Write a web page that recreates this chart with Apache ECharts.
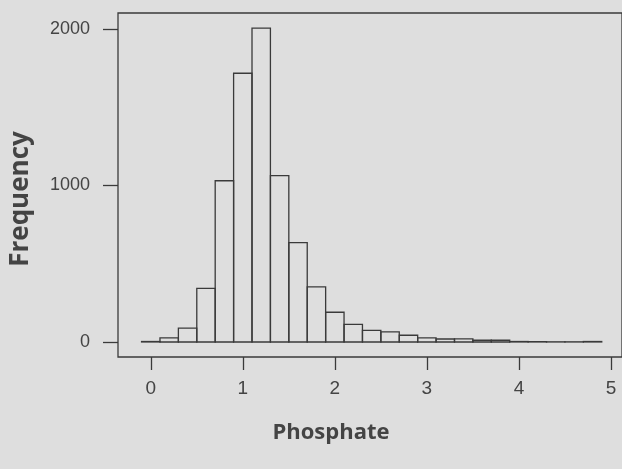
<!DOCTYPE html>
<html><head><meta charset="utf-8">
<script src="https://cdn.jsdelivr.net/npm/echarts@6/dist/echarts.min.js"></script>
<style>html,body{margin:0;padding:0;background:#dedede}#c{width:622px;height:469px}</style>
</head><body><div id="c"></div>
<script>
const binCenters = [0,0.2,0.4,0.6,0.8,1.0,1.2,1.4,1.6,1.8,2.0,2.2,2.4,2.6,2.8,3.0,3.2,3.4,3.6,3.8,4.0,4.2,4.4,4.6,4.8];
const frequencies = [3,26,89,343,1030,1717,2005,1063,635,352,190,112,74,64,43,26,19,20,11,11,3,2,1,1,3];
const binWidth = 0.2;
const xTicks = [0,1,2,3,4,5];
const yTicks = [0,1000,2000];
const xTitle = 'Phosphate';
const yTitle = 'Frequency';

const data = binCenters.map((c,i)=>[c,frequencies[i]]);
const chart = echarts.init(document.getElementById('c'));
const lineCol = '#3a3a3a';
chart.setOption({
  backgroundColor:'#dedede',
  animation:false,
  grid:{left:118, top:13, right:-3, bottom:112, show:true, borderColor:lineCol, borderWidth:1.3, backgroundColor:'transparent'},
  xAxis:{type:'value', min:-0.356, max:5.12,
    axisLine:{show:false, onZero:false}, splitLine:{show:false},
    axisTick:{show:true, inside:false, length:13, lineStyle:{color:lineCol,width:1.3}, customValues:xTicks},
    axisLabel:{customValues:xTicks, margin:22, color:'#444', fontFamily:'Liberation Sans', fontSize:19, formatter:v=>String(v)}
  },
  yAxis:{type:'value', min:-96, max:2102,
    axisLine:{show:false, onZero:false}, splitLine:{show:false},
    axisTick:{show:true, inside:false, length:15, lineStyle:{color:lineCol,width:1.3}, customValues:yTicks},
    axisLabel:{customValues:yTicks, margin:28, color:'#444', fontFamily:'Liberation Sans', fontSize:18, formatter:v=>String(v)}
  },
  graphic:[
    {type:'text', x:331, y:433, style:{text:xTitle, x:0, y:0, align:'center', verticalAlign:'middle', font:'bold 22px "Open Sans"', fill:'#444'}},
    {type:'text', rotation:Math.PI/2, x:21, y:199, style:{text:yTitle, x:0, y:0, align:'center', verticalAlign:'middle', font:'bold 26px "Open Sans"', fill:'#444'}}
  ],
  series:[{
    type:'custom',
    data:data,
    renderItem:function(params, api){
      const c = api.value(0), v = api.value(1);
      const p0 = api.coord([c-binWidth/2, v]);
      const p1 = api.coord([c+binWidth/2, 0]);
      return {type:'rect', shape:{x:p0[0], y:p0[1], width:p1[0]-p0[0], height:p1[1]-p0[1]},
        style:{fill:'transparent', stroke:lineCol, lineWidth:1.3}};
    }
  }]
});
</script></body></html>
